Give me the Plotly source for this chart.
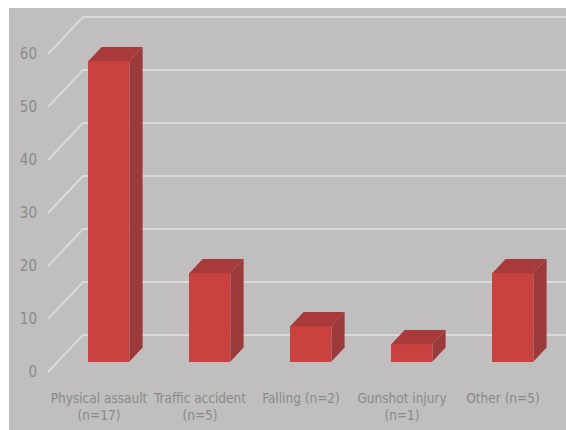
import plotly.graph_objects as go

# Injury mechanism shares (%), with case counts in the labels
categories = [
    "Physical assault<br>(n=17)",
    "Traffic accident<br>(n=5)",
    "Falling (n=2)",
    "Gunshot injury<br>(n=1)",
    "Other (n=5)",
]
percent = [56.7, 16.7, 6.7, 3.3, 16.7]
y_ticks = [0, 10, 20, 30, 40, 50, 60]

# Oblique projection of the 3D column look: a point at depth t (0 = front
# plane, 1 = back wall) is shifted by t * (DEPTH_X, DEPTH_Y) in data units.
DEPTH_X = 0.3465
DEPTH_Y = 6.98
T_FRONT = 0.28
T_BACK = 0.66
BAR_W = 0.406
WALL_LEFT = -0.505
X_RANGE = [-0.5446, 4.6238]
Y_RANGE = [-2.264, 70.19]

FRONT = "#c9423f"
SIDE = "#9c3a3b"
TOP = "#a93a3a"
GRID = "#dadada"
TEXT = "#8a8a8a"
BG = "#c0bebe"

fig = go.Figure()

# Walls: slanted side-wall lines plus horizontal back-wall lines (under the columns)
for v in y_ticks:
    fig.add_shape(type="path", xref="x", yref="y", layer="below",
                  path=(f"M {WALL_LEFT},{v} L {WALL_LEFT + DEPTH_X},{v + DEPTH_Y} "
                        f"L {X_RANGE[1] + 0.05},{v + DEPTH_Y}"),
                  line=dict(color=GRID, width=2))

dx0, dy0 = T_FRONT * DEPTH_X, T_FRONT * DEPTH_Y
ddx, ddy = (T_BACK - T_FRONT) * DEPTH_X, (T_BACK - T_FRONT) * DEPTH_Y
xs = list(range(len(percent)))

# Front faces
fig.add_trace(go.Bar(
    x=[i + dx0 for i in xs], y=percent, base=[dy0] * len(percent),
    width=BAR_W, marker=dict(color=FRONT, line=dict(width=0)),
    showlegend=False))

# Side and top faces of each column
for i, v in zip(xs, percent):
    xl = i + dx0 - BAR_W / 2
    xr = i + dx0 + BAR_W / 2
    b, t = dy0, dy0 + v
    fig.add_trace(go.Scatter(
        x=[xr, xr, xr + ddx, xr + ddx, xr], y=[b, t, t + ddy, b + ddy, b],
        fill="toself", fillcolor=SIDE, mode="lines", line=dict(width=0),
        hoverinfo="skip", showlegend=False))
    fig.add_trace(go.Scatter(
        x=[xl, xr, xr + ddx, xl + ddx, xl], y=[t, t, t + ddy, t + ddy, t],
        fill="toself", fillcolor=TOP, mode="lines", line=dict(width=0),
        hoverinfo="skip", showlegend=False))

# White border strips at the top and left of the canvas
L, B, W, H = 44, 46, 566, 430
pw, ph = W - L, H - B
fig.add_shape(type="rect", xref="paper", yref="paper", layer="above",
              x0=-L / pw - 0.01, x1=1.01, y0=(ph - 8) / ph, y1=1.01,
              fillcolor="white", line=dict(width=0))
fig.add_shape(type="rect", xref="paper", yref="paper", layer="above",
              x0=-L / pw - 0.01, x1=(9 - L) / pw, y0=-B / ph - 0.01, y1=1.01,
              fillcolor="white", line=dict(width=0))

font_family = "DejaVu Sans Condensed, Liberation Sans, sans-serif"
fig.update_layout(
    width=W, height=H,
    margin=dict(l=L, r=0, t=0, b=B, autoexpand=False),
    paper_bgcolor=BG, plot_bgcolor=BG,
    bargap=0,
    xaxis=dict(range=X_RANGE, tickvals=xs, ticktext=categories,
               tickangle=0, automargin=False, ticklabelstandoff=4,
               showgrid=False, zeroline=False, showline=False, ticks="",
               tickfont=dict(family=font_family, size=13.5, color=TEXT)),
    yaxis=dict(range=Y_RANGE, tickvals=y_ticks, showgrid=False, automargin=False,
               ticklabelstandoff=6,
               zeroline=False, showline=False, ticks="",
               tickfont=dict(family=font_family, size=15, color=TEXT)),
)

fig.write_html("out.html")
